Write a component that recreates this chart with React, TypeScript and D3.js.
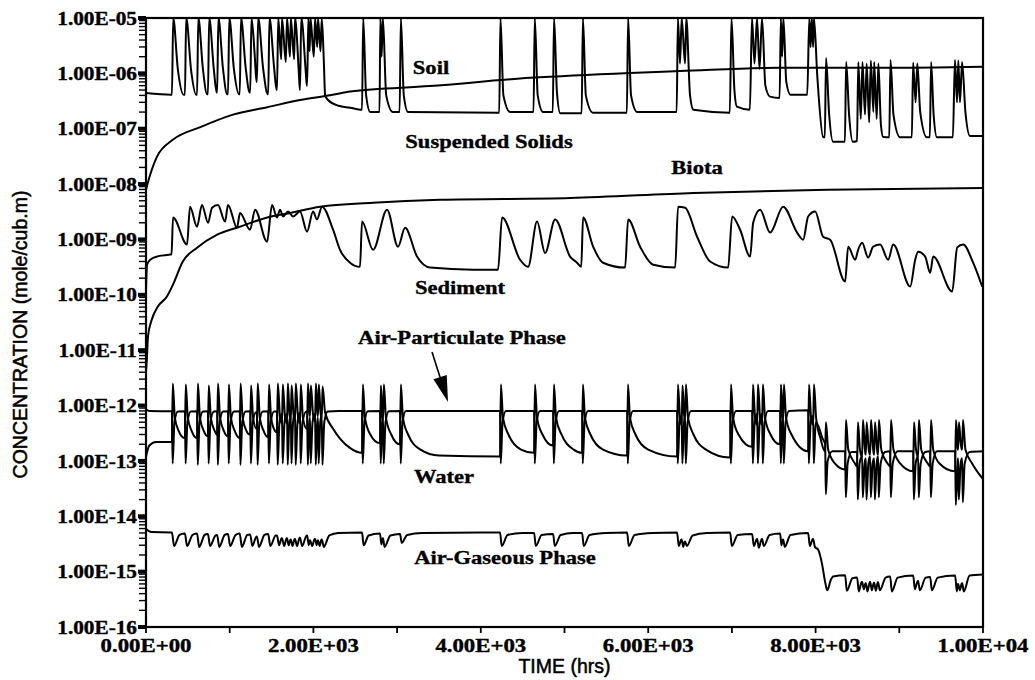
import React from "react";
import * as d3 from "d3";

type Pt = [number, number];

// time (hrs) vs concentration (mole/cub.m)
const xTicks = [0, 1000, 2000, 3000, 4000, 5000, 6000, 7000, 8000, 9000, 10000];
const xTickLabels = ["0.00E+00", "", "2.00E+03", "", "4.00E+03", "", "6.00E+03", "", "8.00E+03", "", "1.00E+04"];
const yTicks = [1e-16, 1e-15, 1e-14, 1e-13, 1e-12, 1e-11, 1e-10, 1e-9, 1e-8, 1e-7, 1e-6, 1e-5];
const yTickLabels = ["1.00E-16", "1.00E-15", "1.00E-14", "1.00E-13", "1.00E-12", "1.00E-11", "1.00E-10", "1.00E-09", "1.00E-08", "1.00E-07", "1.00E-06", "1.00E-05"];

const soil: Pt[] = [
  [0, 7.9e-9], [25, 1.1e-8], [130, 3.1e-8], [320, 6.3e-8], [650, 1.07e-7], [1040, 1.8e-7], [1450, 2.45e-7],
  [1840, 3.3e-7], [2230, 4.1e-7], [2440, 4.7e-7], [3390, 5.9e-7], [4590, 8.3e-7], [5780, 1.02e-6],
  [6380, 1.1e-6], [7580, 1.26e-6], [8770, 1.26e-6], [10000, 1.32e-6],
];

const suspendedSolids: Pt[] = [
  [0, 4.4e-7], [300, 4.1e-7],
  [310, 4.1e-7], [325, 1e-5], [380, 1.2e-6], [450, 4.1e-7],
  [465, 4.1e-7], [480, 1e-5], [540, 1.1e-6], [600, 4.1e-7],
  [610, 4.1e-7], [625, 1e-5], [680, 1.2e-6], [730, 4.2e-7],
  [740, 4.2e-7], [755, 1e-5], [810, 1.2e-6], [845, 4.5e-7],
  [850, 4.5e-7], [865, 1e-5], [920, 1.2e-6], [970, 4.2e-7],
  [980, 4.2e-7], [995, 1e-5], [1050, 1.2e-6], [1110, 4.2e-7],
  [1120, 4.2e-7], [1135, 1e-5], [1190, 1.3e-6], [1240, 4.5e-7],
  [1245, 4.5e-7], [1260, 1e-5], [1300, 2e-6], [1320, 7e-7],
  [1325, 7e-7], [1340, 1e-5], [1400, 1.2e-6], [1455, 4.2e-7],
  [1460, 4.2e-7], [1475, 1e-5], [1530, 1.3e-6], [1560, 5e-7],
  [1565, 5e-7], [1580, 1e-5], [1615, 1.8e-6], [1625, 1e-5], [1670, 1.6e-6], [1685, 1e-5], [1720, 2e-6],
  [1730, 1e-5], [1770, 1.8e-6], [1780, 1e-5], [1825, 1.1e-6], [1838, 5e-7],
  [1840, 5e-7], [1855, 1e-5], [1910, 1e-6], [1922, 6e-7],
  [1925, 6e-7], [1940, 1e-5], [1955, 2.5e-6], [1965, 1e-5], [2005, 2e-6], [2020, 1e-5], [2045, 3e-6],
  [2055, 1e-5], [2085, 2.5e-6], [2100, 1e-5], [2125, 1.6e-6], [2140, 4e-7],
  [2175, 3.3e-7], [2300, 2.6e-7], [2438, 2.4e-7], [2575, 2.2e-7],
  [2581, 2.2e-7], [2595, 1e-5], [2630, 4e-7], [2680, 2e-7], [2790, 2e-7],
  [2800, 1e-5], [2815, 2e-6], [2830, 1e-5], [2870, 4e-7], [2950, 2e-7], [3030, 2e-7],
  [3045, 1e-5], [3080, 4e-7], [3131, 2e-7], [4220, 1.95e-7],
  [4235, 1e-5], [4270, 4e-7], [4350, 2e-7], [4630, 2e-7],
  [4645, 1e-5], [4680, 4e-7], [4744, 2e-7], [4860, 2e-7],
  [4875, 1e-5], [4910, 4.5e-7], [4950, 1.9e-7], [5205, 1.9e-7],
  [5220, 1e-5], [5255, 4e-7], [5340, 1.95e-7], [5745, 1.95e-7],
  [5760, 1e-5], [5795, 4e-7], [5870, 2e-7], [6340, 2e-7],
  [6355, 1e-5], [6380, 1.5e-6], [6400, 1e-5], [6440, 1.5e-6], [6455, 1e-5], [6500, 4e-7], [6540, 2.2e-7],
  [6975, 1.95e-7], [6995, 1e-5], [7030, 5e-7], [7060, 2.5e-7], [7215, 2.2e-7],
  [7240, 1e-5], [7270, 1.5e-6], [7300, 1e-5], [7330, 1.2e-6], [7360, 1e-5], [7400, 6e-7], [7455, 3.8e-7],
  [7570, 3.6e-7], [7585, 1e-5], [7600, 2e-6], [7615, 1e-5], [7650, 7e-7], [7700, 4.1e-7], [7900, 4.1e-7],
  [7925, 1e-5], [7940, 3e-6], [7955, 1e-5], [7970, 3e-6], [7980, 1e-5], [8020, 9e-7], [8090, 7.1e-8],
  [8110, 7e-8], [8125, 1.9e-6], [8160, 2e-7], [8210, 5.8e-8], [8350, 5.8e-8],
  [8365, 1.6e-6], [8400, 1.8e-7], [8445, 5.8e-8], [8495, 6e-8],
  [8510, 1.6e-6], [8540, 1.5e-7], [8560, 1.6e-6], [8590, 1.8e-7], [8610, 1.5e-6], [8640, 1.3e-7],
  [8660, 1.7e-6], [8690, 2e-7], [8700, 1.6e-6], [8730, 1.5e-7], [8750, 1.5e-6], [8780, 1.2e-7], [8807, 7.1e-8],
  [8880, 7e-8], [8895, 1.75e-6], [8930, 1.8e-7], [9010, 7e-8], [9150, 7e-8],
  [9165, 1.55e-6], [9195, 3e-7], [9215, 1.5e-6], [9250, 2e-7], [9330, 7e-8],
  [9365, 7e-8], [9380, 1.6e-6], [9410, 1.8e-7], [9450, 7e-8], [9640, 7e-8],
  [9665, 1.75e-6], [9690, 3e-7], [9705, 1.7e-6], [9725, 3e-7], [9750, 1.6e-6], [9790, 2e-7], [9845, 7.4e-8],
  [10000, 7.4e-8],
];

const biota: Pt[] = [
  [0, 4e-12], [12, 7.8e-12], [24, 1.8e-11], [70, 3.6e-11], [140, 6.1e-11], [250, 9.3e-11], [320, 1.5e-10],
  [440, 4e-10], [610, 7.1e-10], [850, 1.22e-9], [1120, 1.7e-9], [1450, 2.5e-9], [1720, 3e-9], [2080, 3.9e-9],
  [2710, 4.6e-9], [3510, 5.2e-9], [5070, 5.6e-9], [6540, 6.9e-9], [8140, 7.9e-9], [10000, 8.5e-9],
];

const sediment: Pt[] = [
  [0, 1.2e-10], [12, 3.5e-10], [50, 4.3e-10], [150, 5e-10], [305, 5.4e-10],
  [323, 2.5e-9], [490, 8.1e-10], [526, 3.9e-9], [609, 1.7e-9], [669, 4.2e-9], [741, 2e-9], [789, 3.75e-9],
  [860, 4.2e-9], [944, 2.1e-9], [980, 4.2e-9], [1087, 1.63e-9], [1123, 3e-9], [1243, 1.5e-9], [1303, 3.45e-9],
  [1446, 9.1e-10], [1506, 4.2e-9], [1565, 2.5e-9], [1601, 3.45e-9], [1637, 2.6e-9], [1697, 3.2e-9],
  [1757, 2.6e-9], [1840, 3.2e-9], [1924, 1.38e-9], [1996, 3.2e-9], [2043, 2.3e-9], [2103, 3.9e-9],
  [2235, 1.5e-9], [2318, 6.5e-10], [2438, 3.8e-10], [2557, 3.2e-10],
  [2581, 2.1e-9], [2713, 6.5e-10], [2880, 3.45e-9], [3011, 7.4e-10], [3095, 1.63e-9], [3238, 4.9e-10],
  [3394, 3.1e-10], [3908, 2.85e-10], [4206, 2.85e-10],
  [4254, 2.5e-9], [4469, 4.3e-10], [4565, 3.2e-10], [4672, 2.1e-9], [4768, 5.7e-10], [4888, 2.3e-9],
  [5067, 4.9e-10], [5150, 3.8e-10], [5200, 3.2e-10],
  [5222, 2.5e-9], [5342, 7.4e-10], [5461, 3.8e-10], [5724, 3.1e-10],
  [5760, 2.3e-9], [5903, 7.4e-10], [6059, 3.5e-10], [6322, 3.1e-10],
  [6357, 3.9e-9], [6441, 3.75e-9], [6584, 1.12e-9], [6740, 4e-10], [6955, 3.1e-10],
  [7003, 2.6e-9], [7098, 1.5e-9], [7218, 4.9e-10], [7254, 2e-9], [7337, 3.45e-9], [7457, 1.33e-9],
  [7612, 3.9e-9], [7779, 1.33e-9], [7851, 9.9e-10], [7911, 2.6e-9], [7995, 3.2e-9], [8090, 1.12e-9],
  [8174, 9.9e-10], [8353, 1.74e-10],
  [8389, 7.4e-10], [8473, 4.3e-10], [8508, 6.5e-10], [8556, 8.7e-10], [8628, 4.7e-10], [8688, 7.4e-10],
  [8771, 8.1e-10], [8867, 4.3e-10], [8927, 8.1e-10], [9130, 1.41e-10],
  [9190, 4.3e-10], [9225, 6e-10], [9309, 4.9e-10], [9369, 2.5e-10], [9405, 4.9e-10], [9632, 1.15e-10],
  [9692, 7.2e-10], [9763, 8.1e-10], [9882, 3.8e-10], [9990, 1.41e-10],
];

const airParticulate: Pt[] = [
  [0, 8.6e-13], [40, 8e-13], [305, 7.9e-13],
  [310, 7.9e-13], [318, 9e-14], [340, 5e-13], [380, 7.8e-13],
  [465, 7.9e-13], [473, 9e-14], [495, 5e-13], [535, 7.8e-13],
  [610, 7.9e-13], [618, 8.5e-14], [640, 5e-13], [680, 7.8e-13],
  [740, 7.9e-13], [748, 9e-14], [770, 5e-13], [810, 7.8e-13],
  [850, 7.9e-13], [858, 8.5e-14], [880, 5e-13], [920, 7.8e-13],
  [980, 7.9e-13], [988, 9e-14], [1010, 5e-13], [1050, 7.8e-13],
  [1120, 7.9e-13], [1128, 8.5e-14], [1150, 5e-13], [1190, 7.8e-13],
  [1245, 7.9e-13], [1253, 9e-14], [1275, 5e-13], [1315, 7.6e-13],
  [1325, 7.6e-13], [1333, 8.5e-14], [1355, 5e-13], [1395, 7.8e-13],
  [1460, 7.9e-13], [1468, 9e-14], [1490, 5e-13], [1530, 7.8e-13],
  [1565, 7.8e-13], [1573, 8.5e-14], [1595, 5e-13], [1620, 7e-13],
  [1625, 7e-13], [1633, 9e-14], [1655, 5e-13], [1680, 7e-13],
  [1685, 7e-13], [1693, 8.5e-14], [1712, 5e-13], [1727, 6.5e-13],
  [1730, 6.5e-13], [1738, 9e-14], [1757, 5e-13], [1776, 7e-13],
  [1780, 7e-13], [1788, 8.5e-14], [1810, 5e-13], [1835, 7.5e-13],
  [1840, 7.5e-13], [1848, 9e-14], [1870, 5e-13], [1915, 7.8e-13],
  [1925, 7.8e-13], [1933, 8.5e-14], [1950, 4.5e-13], [1957, 6e-13],
  [1960, 6e-13], [1968, 9e-14], [1990, 5e-13], [2015, 7e-13],
  [2020, 7e-13], [2028, 8.5e-14], [2045, 4.5e-13], [2052, 6e-13],
  [2055, 6e-13], [2063, 9e-14], [2082, 5e-13], [2096, 6.5e-13],
  [2100, 6.5e-13], [2108, 8.5e-14], [2130, 5e-13], [2170, 7.8e-13], [2300, 8e-13],
  [2581, 8e-13], [2589, 9e-14], [2611, 5e-13], [2650, 7.9e-13],
  [2796, 8e-13], [2804, 9e-14], [2820, 4.5e-13], [2830, 6e-13],
  [2832, 6e-13], [2840, 9e-14], [2862, 5e-13], [2900, 7.9e-13],
  [3035, 8e-13], [3043, 9e-14], [3065, 5e-13], [3105, 8e-13],
  [4230, 8e-13], [4238, 9e-14], [4260, 5e-13], [4300, 8e-13],
  [4637, 8e-13], [4645, 9e-14], [4667, 5e-13], [4707, 8e-13],
  [4864, 8e-13], [4872, 9e-14], [4894, 5e-13], [4934, 8e-13],
  [5210, 8e-13], [5218, 9e-14], [5240, 5e-13], [5280, 8e-13],
  [5748, 8e-13], [5756, 9e-14], [5778, 5e-13], [5818, 8e-13],
  [6345, 8e-13], [6353, 9e-14], [6375, 5e-13], [6395, 6.5e-13],
  [6400, 6.5e-13], [6408, 9e-14], [6428, 5e-13], [6438, 6e-13],
  [6441, 6e-13], [6449, 9e-14], [6471, 5e-13], [6511, 8e-13],
  [6979, 8e-13], [6987, 9e-14], [7009, 5e-13], [7049, 8e-13],
  [7242, 8e-13], [7250, 9e-14], [7272, 5e-13], [7297, 7e-13],
  [7302, 7e-13], [7310, 9e-14], [7332, 5e-13], [7356, 7e-13],
  [7361, 7e-13], [7369, 9e-14], [7391, 5e-13], [7431, 8e-13],
  [7576, 8e-13], [7584, 9e-14], [7600, 4.5e-13], [7608, 6e-13],
  [7612, 6e-13], [7620, 9e-14], [7642, 5e-13], [7682, 8e-13],
  [7911, 8.2e-13], [7919, 9e-14], [7941, 5e-13], [7966, 6.5e-13],
  [7971, 6.5e-13], [7979, 9e-14], [8001, 5e-13], [8040, 4e-13], [8080, 2.6e-13],
  [8114, 2e-13], [8122, 2.5e-14], [8144, 1e-13], [8200, 1.5e-13],
  [8353, 1.5e-13], [8361, 2.2e-14], [8383, 9e-14], [8430, 1.45e-13],
  [8496, 1.45e-13], [8504, 2e-14], [8526, 9e-14], [8550, 1.2e-13],
  [8556, 1.2e-13], [8564, 2.2e-14], [8586, 9e-14], [8597, 1.1e-13],
  [8600, 1.1e-13], [8608, 2e-14], [8630, 9e-14], [8648, 1.2e-13],
  [8652, 1.2e-13], [8660, 2.2e-14], [8682, 9e-14], [8697, 1.1e-13],
  [8700, 1.1e-13], [8708, 2e-14], [8730, 9e-14], [8743, 1.2e-13],
  [8747, 1.2e-13], [8755, 2.2e-14], [8777, 9e-14], [8830, 1.45e-13],
  [8891, 1.5e-13], [8899, 2.2e-14], [8921, 9e-14], [8980, 1.5e-13],
  [9166, 1.5e-13], [9174, 2e-14], [9196, 9e-14], [9220, 1.2e-13],
  [9225, 1.2e-13], [9233, 2.2e-14], [9255, 9e-14], [9310, 1.45e-13],
  [9369, 1.5e-13], [9377, 2.2e-14], [9399, 9e-14], [9450, 1.5e-13],
  [9667, 1.5e-13], [9675, 1.6e-14], [9697, 9e-14], [9700, 1.1e-13],
  [9703, 1.1e-13], [9711, 2e-14], [9733, 9e-14], [9747, 1.1e-13],
  [9751, 1.1e-13], [9759, 1.8e-14], [9781, 9e-14], [9840, 1.45e-13], [10000, 1.5e-13],
];

const water: Pt[] = [
  [0, 1.2e-13], [40, 1.9e-13], [120, 2.2e-13], [305, 2.2e-13],
  [310, 2.2e-13], [320, 2.5e-12], [345, 6e-13], [390, 3.5e-13], [460, 2.6e-13],
  [465, 2.6e-13], [475, 2.4e-12], [500, 6e-13], [545, 3.5e-13], [605, 2.6e-13],
  [610, 2.6e-13], [620, 2.5e-12], [645, 6e-13], [690, 3.5e-13], [735, 2.8e-13],
  [740, 2.8e-13], [750, 2.3e-12], [775, 6e-13], [820, 3.5e-13], [845, 3e-13],
  [850, 3e-13], [860, 2.5e-12], [885, 6e-13], [930, 3.5e-13], [975, 2.8e-13],
  [980, 2.8e-13], [990, 2.4e-12], [1015, 6e-13], [1060, 3.5e-13], [1115, 2.6e-13],
  [1120, 2.6e-13], [1130, 2.5e-12], [1155, 6e-13], [1200, 3.5e-13], [1240, 3e-13],
  [1245, 3e-13], [1255, 2.3e-12], [1280, 6e-13], [1320, 3.8e-13],
  [1325, 3.8e-13], [1335, 2.5e-12], [1360, 6e-13], [1405, 3.5e-13], [1455, 2.7e-13],
  [1460, 2.7e-13], [1470, 2.4e-12], [1495, 6e-13], [1540, 3.5e-13], [1560, 3.3e-13],
  [1565, 3.3e-13], [1575, 2.5e-12], [1600, 6.5e-13], [1620, 4.8e-13],
  [1625, 4.8e-13], [1635, 2.4e-12], [1660, 6.5e-13], [1680, 4.8e-13],
  [1685, 4.8e-13], [1695, 2.5e-12], [1715, 7e-13], [1727, 5.5e-13],
  [1730, 5.5e-13], [1740, 2.3e-12], [1762, 7e-13], [1776, 5.2e-13],
  [1780, 5.2e-13], [1790, 2.5e-12], [1815, 6.5e-13], [1835, 4.8e-13],
  [1840, 4.8e-13], [1850, 2.4e-12], [1875, 6e-13], [1920, 3.8e-13],
  [1925, 3.8e-13], [1935, 2.5e-12], [1952, 8e-13], [1957, 6.5e-13],
  [1960, 6.5e-13], [1970, 2.3e-12], [1995, 7e-13], [2015, 5.2e-13],
  [2020, 5.2e-13], [2030, 2.5e-12], [2047, 8e-13], [2052, 6.5e-13],
  [2055, 6.5e-13], [2065, 2.4e-12], [2085, 7.5e-13], [2096, 6e-13],
  [2100, 6e-13], [2110, 2.2e-12], [2140, 7.5e-13], [2235, 3.8e-13], [2320, 2.5e-13], [2440, 1.7e-13], [2576, 1.4e-13],
  [2581, 1.4e-13], [2591, 2.4e-12], [2616, 6e-13], [2680, 3e-13], [2790, 2.1e-13],
  [2796, 2.1e-13], [2806, 2.3e-12], [2822, 7e-13], [2829, 5.5e-13],
  [2832, 5.5e-13], [2842, 2.4e-12], [2867, 6e-13], [2930, 3e-13], [3030, 2e-13],
  [3035, 2e-13], [3045, 2.4e-12], [3070, 6e-13], [3131, 3e-13], [3280, 1.6e-13], [3500, 1.25e-13], [4225, 1.2e-13],
  [4230, 1.2e-13], [4240, 2.4e-12], [4265, 6e-13], [4330, 3e-13], [4480, 1.6e-13], [4632, 1.4e-13],
  [4637, 1.4e-13], [4647, 2.4e-12], [4672, 6e-13], [4737, 3e-13], [4859, 1.9e-13],
  [4864, 1.9e-13], [4874, 2.4e-12], [4899, 6e-13], [4964, 3e-13], [5110, 1.6e-13], [5205, 1.4e-13],
  [5210, 1.4e-13], [5220, 2.4e-12], [5245, 6e-13], [5310, 3e-13], [5460, 1.6e-13], [5743, 1.25e-13],
  [5748, 1.25e-13], [5758, 2.4e-12], [5783, 6e-13], [5848, 3e-13], [6000, 1.6e-13], [6340, 1.2e-13],
  [6345, 1.2e-13], [6355, 2.4e-12], [6380, 6e-13], [6396, 4.5e-13],
  [6400, 4.5e-13], [6410, 2.3e-12], [6430, 6.5e-13], [6437, 5.5e-13],
  [6441, 5.5e-13], [6451, 2.4e-12], [6476, 6e-13], [6541, 3e-13], [6690, 1.6e-13], [6974, 1.15e-13],
  [6979, 1.15e-13], [6989, 2.4e-12], [7014, 6e-13], [7079, 3e-13], [7237, 1.8e-13],
  [7242, 1.8e-13], [7252, 2.4e-12], [7277, 6e-13], [7298, 4.5e-13],
  [7302, 4.5e-13], [7312, 2.4e-12], [7337, 6e-13], [7357, 4.5e-13],
  [7361, 4.5e-13], [7371, 2.4e-12], [7396, 6e-13], [7461, 3e-13], [7571, 2e-13],
  [7576, 2e-13], [7586, 2.4e-12], [7603, 7e-13], [7609, 5.5e-13],
  [7612, 5.5e-13], [7622, 2.4e-12], [7647, 6e-13], [7712, 3e-13], [7906, 1.5e-13],
  [7911, 1.5e-13], [7921, 2.4e-12], [7946, 6e-13], [7967, 4.5e-13],
  [7971, 4.5e-13], [7981, 2.4e-12], [8006, 6e-13], [8060, 2.5e-13], [8110, 1.5e-13],
  [8114, 1.5e-13], [8124, 5e-13], [8150, 1.6e-13], [8230, 9e-14], [8349, 7e-14],
  [8353, 7e-14], [8363, 5.5e-13], [8390, 1.6e-13], [8470, 9e-14], [8492, 8e-14],
  [8496, 8e-14], [8506, 5e-13], [8530, 1.6e-13], [8552, 1.2e-13],
  [8556, 1.2e-13], [8566, 5.5e-13], [8590, 1.6e-13], [8596, 1.3e-13],
  [8600, 1.3e-13], [8610, 5e-13], [8635, 1.6e-13], [8648, 1.3e-13],
  [8652, 1.3e-13], [8662, 5.5e-13], [8688, 1.6e-13], [8696, 1.3e-13],
  [8700, 1.3e-13], [8710, 5e-13], [8735, 1.6e-13], [8743, 1.3e-13],
  [8747, 1.3e-13], [8757, 5.5e-13], [8785, 1.6e-13], [8860, 9e-14], [8887, 8e-14],
  [8891, 8e-14], [8901, 5.5e-13], [8930, 1.6e-13], [9010, 9e-14], [9162, 6.5e-14],
  [9166, 6.5e-14], [9176, 5e-13], [9200, 1.6e-13], [9221, 1.2e-13],
  [9225, 1.2e-13], [9235, 5.5e-13], [9262, 1.6e-13], [9340, 9e-14], [9365, 8e-14],
  [9369, 8e-14], [9379, 5.5e-13], [9405, 1.6e-13], [9480, 9e-14], [9663, 6.5e-14],
  [9667, 6.5e-14], [9677, 5.5e-13], [9695, 2e-13], [9699, 1.6e-13],
  [9703, 1.6e-13], [9713, 5e-13], [9735, 2e-13], [9747, 1.6e-13],
  [9751, 1.6e-13], [9761, 5.5e-13], [9790, 1.6e-13], [9870, 9e-14], [10000, 4.7e-14],
];

const airGaseous: Pt[] = [
  [0, 5.9e-15], [60, 5.2e-15], [305, 5.1e-15],
  [310, 5.1e-15], [335, 2.9e-15], [400, 4.6e-15], [460, 4.9e-15],
  [465, 4.9e-15], [490, 2.9e-15], [555, 4.6e-15], [605, 4.9e-15],
  [610, 4.9e-15], [635, 2.8e-15], [700, 4.6e-15], [735, 4.8e-15],
  [740, 4.8e-15], [765, 2.9e-15], [830, 4.5e-15], [845, 4.6e-15],
  [850, 4.6e-15], [875, 2.8e-15], [940, 4.6e-15], [975, 4.8e-15],
  [980, 4.8e-15], [1005, 2.9e-15], [1070, 4.6e-15], [1115, 4.9e-15],
  [1120, 4.9e-15], [1145, 2.8e-15], [1210, 4.6e-15], [1240, 4.7e-15],
  [1245, 4.7e-15], [1270, 2.9e-15], [1320, 4.3e-15],
  [1325, 4.3e-15], [1350, 2.8e-15], [1415, 4.6e-15], [1455, 4.8e-15],
  [1460, 4.8e-15], [1485, 2.9e-15], [1550, 4.5e-15], [1560, 4.5e-15],
  [1565, 4.5e-15], [1590, 3e-15], [1620, 4e-15],
  [1625, 4e-15], [1650, 2.9e-15], [1680, 4e-15],
  [1685, 4e-15], [1705, 3e-15], [1727, 3.8e-15],
  [1730, 3.8e-15], [1750, 2.9e-15], [1776, 3.9e-15],
  [1780, 3.9e-15], [1805, 2.9e-15], [1835, 4.1e-15],
  [1840, 4.1e-15], [1865, 2.9e-15], [1920, 4.5e-15],
  [1925, 4.5e-15], [1945, 3e-15], [1957, 3.7e-15],
  [1960, 3.7e-15], [1985, 2.9e-15], [2015, 3.9e-15],
  [2020, 3.9e-15], [2040, 3e-15], [2052, 3.7e-15],
  [2055, 3.7e-15], [2075, 2.9e-15], [2096, 3.8e-15],
  [2100, 3.8e-15], [2125, 2.8e-15], [2190, 4.5e-15], [2300, 5e-15], [2576, 5.1e-15],
  [2581, 5.1e-15], [2600, 3e-15], [2660, 4.5e-15], [2790, 4.9e-15],
  [2796, 4.9e-15], [2812, 3.1e-15], [2828, 4e-15],
  [2832, 4e-15], [2850, 2.8e-15], [2920, 4.5e-15], [3030, 4.8e-15],
  [3035, 4.8e-15], [3055, 3.3e-15], [3120, 4.6e-15], [3300, 5e-15], [4225, 5.1e-15],
  [4230, 5.1e-15], [4250, 2.9e-15], [4320, 4.6e-15], [4500, 5e-15], [4632, 5e-15],
  [4637, 5e-15], [4657, 2.9e-15], [4727, 4.6e-15], [4859, 4.8e-15],
  [4864, 4.8e-15], [4884, 2.9e-15], [4954, 4.6e-15], [5100, 5e-15], [5205, 5e-15],
  [5210, 5e-15], [5230, 2.9e-15], [5300, 4.6e-15], [5500, 5e-15], [5743, 5.1e-15],
  [5748, 5.1e-15], [5768, 2.9e-15], [5838, 4.6e-15], [6050, 5e-15], [6340, 5.1e-15],
  [6345, 5.1e-15], [6365, 2.9e-15], [6396, 3.8e-15],
  [6400, 3.8e-15], [6418, 2.8e-15], [6437, 3.5e-15],
  [6441, 3.5e-15], [6461, 2.9e-15], [6531, 4.5e-15], [6700, 5e-15], [6974, 5.1e-15],
  [6979, 5.1e-15], [6999, 2.9e-15], [7069, 4.6e-15], [7237, 4.8e-15],
  [7242, 4.8e-15], [7262, 2.9e-15], [7298, 3.9e-15],
  [7302, 3.9e-15], [7322, 2.7e-15], [7357, 3.9e-15],
  [7361, 3.9e-15], [7381, 2.9e-15], [7451, 4.6e-15], [7571, 4.9e-15],
  [7576, 4.9e-15], [7592, 3e-15], [7608, 3.8e-15],
  [7612, 3.8e-15], [7632, 2.8e-15], [7700, 4.6e-15], [7906, 5e-15],
  [7911, 5e-15], [7931, 2.9e-15], [7967, 3.9e-15],
  [7971, 3.9e-15], [7991, 2.8e-15], [8030, 2.5e-15], [8080, 1.3e-15], [8114, 6.5e-16], [8140, 4.6e-16],
  [8180, 7e-16], [8210, 8.2e-16], [8349, 8.6e-16],
  [8353, 8.6e-16], [8373, 4.5e-16], [8440, 7.6e-16], [8492, 7.8e-16],
  [8496, 7.8e-16], [8516, 4.4e-16], [8550, 6.5e-16],
  [8556, 6.5e-16], [8576, 4.8e-16], [8596, 6.2e-16],
  [8600, 6.2e-16], [8620, 4.4e-16], [8648, 6.5e-16],
  [8652, 6.5e-16], [8672, 4.6e-16], [8696, 6.3e-16],
  [8700, 6.3e-16], [8720, 4.5e-16], [8743, 6.4e-16],
  [8747, 6.4e-16], [8767, 4.6e-16], [8837, 7.8e-16], [8887, 8.2e-16],
  [8891, 8.2e-16], [8911, 4.4e-16], [8981, 7.8e-16], [9162, 8.5e-16],
  [9166, 8.5e-16], [9186, 4.8e-16], [9221, 6.8e-16],
  [9225, 6.8e-16], [9245, 4.6e-16], [9315, 7.8e-16], [9365, 8e-16],
  [9369, 8e-16], [9389, 4.6e-16], [9459, 7.8e-16], [9663, 8.5e-16],
  [9667, 8.5e-16], [9687, 4.4e-16], [9699, 6e-16],
  [9703, 6e-16], [9723, 4.6e-16], [9747, 6.2e-16],
  [9751, 6.2e-16], [9771, 4.4e-16], [9840, 8.5e-16], [10000, 8.9e-16],
];

const seriesList: Pt[][] = [soil, suspendedSolids, biota, sediment, airParticulate, water, airGaseous];

// label layout (pixel centres), not data
const seriesLabels = [
  { text: "Soil", x: 431, y: 68 },
  { text: "Suspended Solids", x: 489, y: 142 },
  { text: "Biota", x: 697, y: 168 },
  { text: "Sediment", x: 460, y: 288 },
  { text: "Air-Particulate Phase", x: 462, y: 338 },
  { text: "Water", x: 444, y: 477 },
  { text: "Air-Gaseous Phase", x: 505, y: 558 },
];

const W = 1035;
const H = 680;
const plot = { left: 146, right: 983, top: 18, bottom: 627 };
const serif = "'Liberation Serif', 'Times New Roman', serif";
const sans = "'Liberation Sans', Arial, sans-serif";

export default function App() {
  const x = d3.scaleLinear().domain([0, 10000]).range([plot.left, plot.right]);
  const y = d3.scaleLog().domain([1e-16, 1e-5]).range([plot.bottom, plot.top]);

  const line = d3
    .line<Pt>()
    .x((d) => x(d[0]))
    .y((d) => y(d[1]))
    .curve(d3.curveMonotoneX);

  // minor log ticks 2..9 in every decade
  const minorTicks: number[] = [];
  yTicks.slice(0, -1).forEach((p) => {
    for (let k = 2; k <= 9; k++) minorTicks.push(p * k);
  });

  // arrow pointing at the particulate line
  const tip = { x: 448, y: 402 };
  const tail = { x: 432, y: 352 };
  const len = Math.hypot(tip.x - tail.x, tip.y - tail.y);
  const ux = (tip.x - tail.x) / len;
  const uy = (tip.y - tail.y) / len;
  const bx = tip.x - ux * 26;
  const by = tip.y - uy * 26;
  const head = [
    [tip.x, tip.y],
    [bx - uy * 7, by + ux * 7],
    [bx + uy * 7, by - ux * 7],
  ]
    .map((p) => p.join(","))
    .join(" ");

  return (
    <div>
      <style>{`body{margin:0;background:#fff}`}</style>
      <svg width={W} height={H} style={{ display: "block", background: "#fff" }}>
        <defs>
          <clipPath id="plotClip">
            <rect x={plot.left} y={plot.top} width={plot.right - plot.left} height={plot.bottom - plot.top} />
          </clipPath>
        </defs>

        {/* series */}
        <g clipPath="url(#plotClip)" fill="none" stroke="#000" strokeWidth={2} strokeLinejoin="round">
          {seriesList.map((s, i) => (
            <path key={i} d={line(s) || ""} />
          ))}
        </g>

        {/* frame */}
        <rect
          x={plot.left}
          y={plot.top}
          width={plot.right - plot.left}
          height={plot.bottom - plot.top}
          fill="none"
          stroke="#000"
          strokeWidth={2.2}
        />

        {/* y axis ticks */}
        <g stroke="#000">
          {minorTicks.map((v, i) => (
            <line key={i} x1={plot.left - 7} x2={plot.left} y1={y(v)} y2={y(v)} strokeWidth={1.4} />
          ))}
          {yTicks.map((v, i) => (
            <line key={i} x1={plot.left - 8} x2={plot.left} y1={y(v)} y2={y(v)} strokeWidth={4} />
          ))}
        </g>
        <g fontFamily={serif} fontWeight="bold" fontSize={19} fill="#000" stroke="#000" strokeWidth={0.4}>
          {yTicks.map((v, i) => (
            <text
              key={i}
              transform={`translate(${plot.left - 9},${y(v)}) scale(1.12,1)`}
              textAnchor="end"
              dy="0.35em"
            >
              {yTickLabels[i]}
            </text>
          ))}
        </g>

        {/* x axis ticks */}
        <g stroke="#000" strokeWidth={1.8}>
          {xTicks.map((v, i) => (
            <line key={i} x1={x(v)} x2={x(v)} y1={plot.bottom} y2={plot.bottom + 6} />
          ))}
        </g>
        <g fontFamily={serif} fontWeight="bold" fontSize={19} fill="#000" stroke="#000" strokeWidth={0.4}>
          {xTicks.map((v, i) =>
            xTickLabels[i] ? (
              <text key={i} transform={`translate(${x(v)},${plot.bottom + 25}) scale(1.2,1)`} textAnchor="middle">
                {xTickLabels[i]}
              </text>
            ) : null
          )}
        </g>

        {/* axis titles */}
        <text
          transform={`translate(27,${(plot.top + plot.bottom) / 2 + 12}) rotate(-90)`}
          textAnchor="middle"
          fontFamily={sans}
          fontSize={19.5}
          fill="#000"
          stroke="#000"
          strokeWidth={0.5}
        >
          CONCENTRATION (mole/cub.m)
        </text>
        <text
          x={(plot.left + plot.right) / 2}
          y={673}
          textAnchor="middle"
          fontFamily={sans}
          fontSize={19.5}
          fill="#000"
          stroke="#000"
          strokeWidth={0.5}
        >
          TIME (hrs)
        </text>

        {/* series labels */}
        <g fontFamily={serif} fontWeight="bold" fontSize={18.5} fill="#000" stroke="#000" strokeWidth={0.35}>
          {seriesLabels.map((l) => (
            <text key={l.text} transform={`translate(${l.x},${l.y}) scale(1.22,1)`} textAnchor="middle" dy="0.35em">
              {l.text}
            </text>
          ))}
        </g>

        <line x1={tail.x} y1={tail.y} x2={bx} y2={by} stroke="#000" strokeWidth={1.6} />
        <polygon points={head} fill="#000" />
      </svg>
    </div>
  );
}
